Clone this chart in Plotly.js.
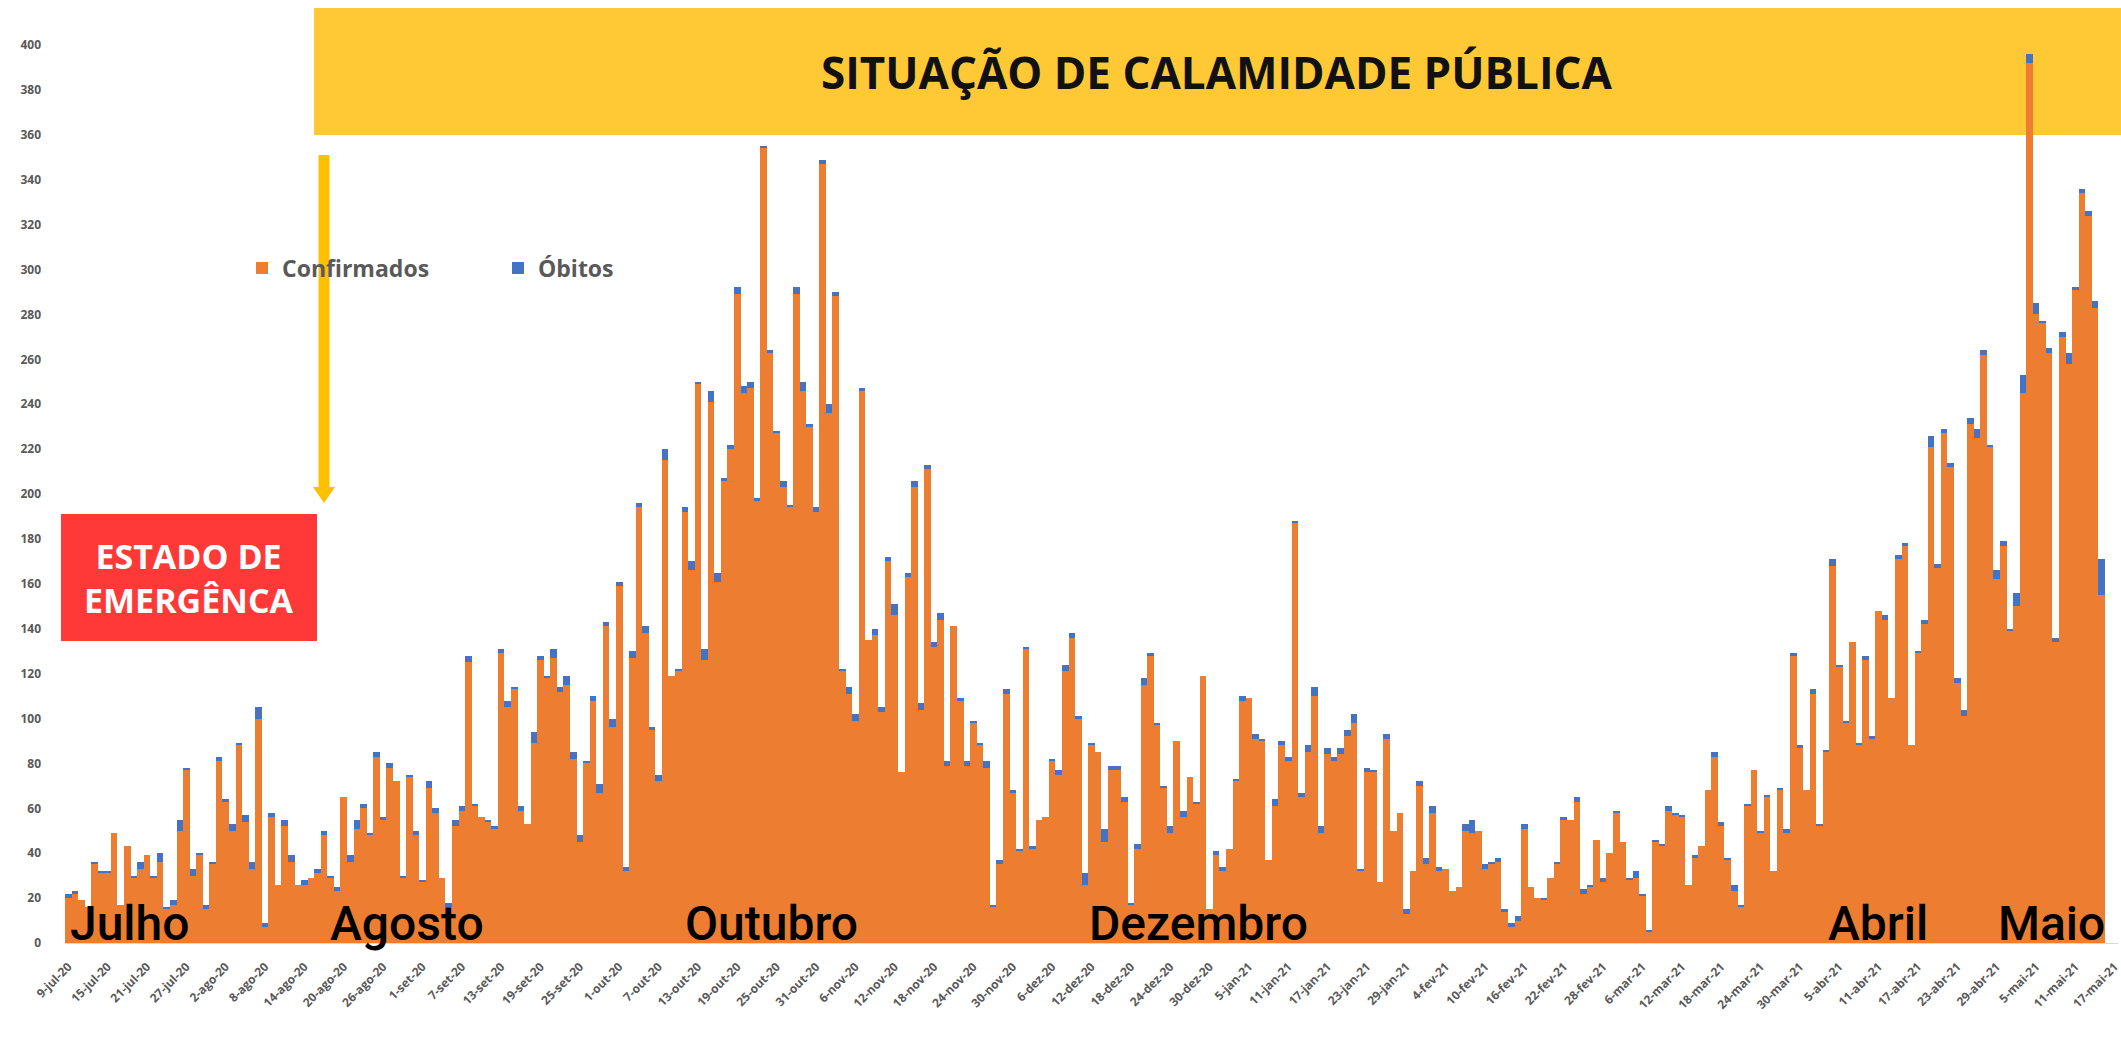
<!DOCTYPE html>
<html>
<head>
<meta charset="utf-8">
<script src="https://cdn.plot.ly/plotly-3.0.1.min.js"></script>
<style>html,body{margin:0;padding:0;background:#fff;}#chart{width:2121px;height:1037px;}</style>
</head>
<body>
<div id="chart"></div>
<script>
const startDate = '2020-07-09';
const confirmados = [20,22,19,16,35,31,31,49,17,43,29,33,39,29,36,15,17,50,77,30,39,15,35,81,63,50,88,54,
33,100,7,56,26,52,36,26,26,29,31,48,29,23,65,36,51,60,48,83,55,78,72,29,74,48,27,69,58,
29,16,52,59,125,61,56,54,51,129,105,113,59,53,89,126,118,127,112,115,82,45,80,108,67,141,96,159,32,
127,194,138,95,72,215,119,121,192,166,249,126,241,161,206,220,289,245,247,197,354,263,227,203,194,289,246,230,192,
347,236,288,121,111,99,246,135,137,103,170,146,76,163,203,104,211,132,144,79,141,108,79,98,88,78,16,35,111,
67,41,131,42,55,56,81,75,121,136,100,26,88,85,45,77,77,63,17,42,115,128,97,69,49,90,56,74,62,
119,15,39,32,42,72,108,109,91,90,37,61,88,81,187,65,85,110,49,84,81,84,92,98,32,76,76,27,91,
50,58,13,32,70,35,58,32,33,23,25,50,49,50,33,35,36,14,7,10,51,25,20,19,29,35,55,55,63,
22,25,46,27,40,58,45,28,29,21,5,45,43,59,57,56,26,38,43,68,83,52,37,23,16,61,77,49,65,
32,68,49,128,87,68,111,52,85,168,123,98,134,88,126,91,148,144,109,171,177,88,129,142,221,167,227,212,116,
101,231,225,262,221,162,177,139,150,245,392,280,276,263,134,270,258,291,334,324,283,155];
const obitos = [2,1,0,0,1,1,1,0,0,0,1,3,0,1,4,1,2,5,1,3,1,2,1,2,1,3,1,3,
3,5,2,2,0,3,3,0,2,0,2,2,1,2,0,3,4,2,1,2,1,2,0,1,1,2,1,3,2,
0,2,3,2,3,1,0,1,1,2,3,1,2,0,5,2,1,4,2,4,3,3,1,2,4,2,4,2,2,
3,2,3,1,3,5,0,1,2,4,1,5,5,4,1,2,3,3,3,1,1,1,1,3,1,3,4,1,2,
2,4,2,1,3,3,1,0,3,2,2,5,0,2,3,3,2,2,3,2,0,1,2,1,1,3,1,2,2,
1,1,1,1,0,0,1,2,3,2,1,5,1,0,6,2,2,2,1,2,3,1,1,1,3,0,3,0,1,
0,0,2,2,0,1,2,0,2,1,0,3,2,2,1,2,3,4,3,3,2,3,3,4,1,2,1,0,2,
0,0,2,0,2,3,3,2,0,0,0,3,6,0,2,1,2,1,2,2,2,0,0,1,0,1,1,0,2,
2,1,0,2,0,1,0,1,3,1,1,1,1,2,1,1,0,1,0,0,2,2,1,3,1,1,0,1,1,
0,1,2,1,1,0,2,1,1,3,1,1,0,1,2,1,0,2,0,2,1,0,1,2,5,2,2,2,2,
3,3,4,2,1,4,2,1,6,8,4,5,1,2,2,2,5,1,2,2,3,16];
const tickDates = ['2020-07-09','2020-07-15','2020-07-21','2020-07-27','2020-08-02','2020-08-08','2020-08-14','2020-08-20','2020-08-26','2020-09-01','2020-09-07','2020-09-13','2020-09-19','2020-09-25','2020-10-01','2020-10-07','2020-10-13','2020-10-19','2020-10-25','2020-10-31','2020-11-06','2020-11-12','2020-11-18','2020-11-24','2020-11-30','2020-12-06','2020-12-12','2020-12-18','2020-12-24','2020-12-30','2021-01-05','2021-01-11','2021-01-17','2021-01-23','2021-01-29','2021-02-04','2021-02-10','2021-02-16','2021-02-22','2021-02-28','2021-03-06','2021-03-12','2021-03-18','2021-03-24','2021-03-30','2021-04-05','2021-04-11','2021-04-17','2021-04-23','2021-04-29','2021-05-05','2021-05-11','2021-05-17'];
const tickLabels = ['9-jul-20','15-jul-20','21-jul-20','27-jul-20','2-ago-20','8-ago-20','14-ago-20','20-ago-20','26-ago-20','1-set-20','7-set-20','13-set-20','19-set-20','25-set-20','1-out-20','7-out-20','13-out-20','19-out-20','25-out-20','31-out-20','6-nov-20','12-nov-20','18-nov-20','24-nov-20','30-nov-20','6-dez-20','12-dez-20','18-dez-20','24-dez-20','30-dez-20','5-jan-21','11-jan-21','17-jan-21','23-jan-21','29-jan-21','4-fev-21','10-fev-21','16-fev-21','22-fev-21','28-fev-21','6-mar-21','12-mar-21','18-mar-21','24-mar-21','30-mar-21','5-abr-21','11-abr-21','17-abr-21','23-abr-21','29-abr-21','5-mai-21','11-mai-21','17-mai-21'];
const months = ['Julho','Agosto','Outubro','Dezembro','Abril','Maio'];
const monthX = [130, 407, 771, 1198, 1878, 2051];

// category dates
const dates = [];
{
  const d0 = new Date(startDate + 'T00:00:00Z');
  for (let i = 0; i < confirmados.length; i++) {
    const d = new Date(d0.getTime() + i * 86400000);
    dates.push(d.toISOString().slice(0, 10));
  }
}

// layout helpers (pixel -> paper)
const L = 65, T = 45, W = 2053, H = 898;
const px = x => (x - L) / W;
const py = y => (T + H - y) / H;

const traces = [
  {type:'bar', name:'Confirmados', x:dates, y:confirmados, marker:{color:'#ED7D31', line:{width:0}}},
  {type:'bar', name:'Óbitos', x:dates, y:obitos, marker:{color:'#4472C4', line:{width:0}}}
];

const tickFont = {family:'Open Sans, sans-serif', size:12, color:'#595959', weight:'bold'};

const annotations = [
  {xref:'paper', yref:'paper', x:px(1217), y:py(72), text:'SITUAÇÃO DE CALAMIDADE PÚBLICA', showarrow:false,
   font:{family:'Open Sans, sans-serif', size:44, color:'#111', weight:'bold'}, xanchor:'center', yanchor:'middle'},
  {xref:'paper', yref:'paper', x:px(189), y:py(578), text:'ESTADO DE<br>EMERGÊNCA', showarrow:false,
   font:{family:'Open Sans, sans-serif', size:34, color:'#ffffff', weight:'bold'}, xanchor:'center', yanchor:'middle'}
];
months.forEach((m, i) => annotations.push({
  xref:'paper', yref:'paper', x:px(monthX[i]), y:py(923), text:m, showarrow:false,
  font:{family:'Roboto, sans-serif', size:48, color:'#000', weight:500}, xanchor:'center', yanchor:'middle'
}));

const shapes = [
  {type:'rect', xref:'paper', yref:'paper', x0:px(314), x1:px(2125), y0:py(135), y1:py(8),
   fillcolor:'#FFC936', line:{width:0}, layer:'below'},
  {type:'rect', xref:'paper', yref:'paper', x0:px(61), x1:px(317), y0:py(641), y1:py(514),
   fillcolor:'#FF3838', line:{width:0}, layer:'above'},
  {type:'line', xref:'paper', yref:'paper', x0:px(324), x1:px(324), y0:py(155), y1:py(490),
   line:{color:'#FFC000', width:11}, layer:'above'},
  {type:'path', xref:'paper', yref:'paper',
   path:`M ${px(313)} ${py(487)} L ${px(335)} ${py(487)} L ${px(324)} ${py(503)} Z`,
   fillcolor:'#FFC000', line:{width:0}, layer:'above'}
];

const layout = {
  width:2121, height:1037,
  margin:{l:L, r:2121 - L - W, t:T, b:1037 - T - H, pad:0},
  paper_bgcolor:'#ffffff', plot_bgcolor:'#ffffff',
  barmode:'stack', bargap:0,
  showlegend:true,
  legend:{orientation:'h', traceorder:'normal', x:px(242), y:py(268), xanchor:'left', yanchor:'middle',
          font:{family:'Open Sans, sans-serif', size:23, color:'#595959', weight:'bold'},
          bgcolor:'rgba(0,0,0,0)', entrywidth:211, entrywidthmode:'pixels'},
  xaxis:{type:'date', range:['2020-07-08 12:00','2021-05-17 12:00'], tickvals:tickDates, ticktext:tickLabels,
         tickangle:-45, tickfont:tickFont, showgrid:false, zeroline:false, showline:true, linecolor:'#D9D9D9',
         linewidth:1, ticks:'', ticklabelstandoff:11, ticklabeloverflow:'allow', automargin:false, fixedrange:true},
  yaxis:{range:[0,400], tickvals:[0,20,40,60,80,100,120,140,160,180,200,220,240,260,280,300,320,340,360,380,400],
         tickfont:tickFont, showgrid:false, zeroline:false, showline:false, ticks:'', ticklabelstandoff:23,
         automargin:false, fixedrange:true},
  annotations:annotations,
  shapes:shapes
};

Plotly.newPlot('chart', traces, layout, {displayModeBar:false, staticPlot:true});
</script>
</body>
</html>
